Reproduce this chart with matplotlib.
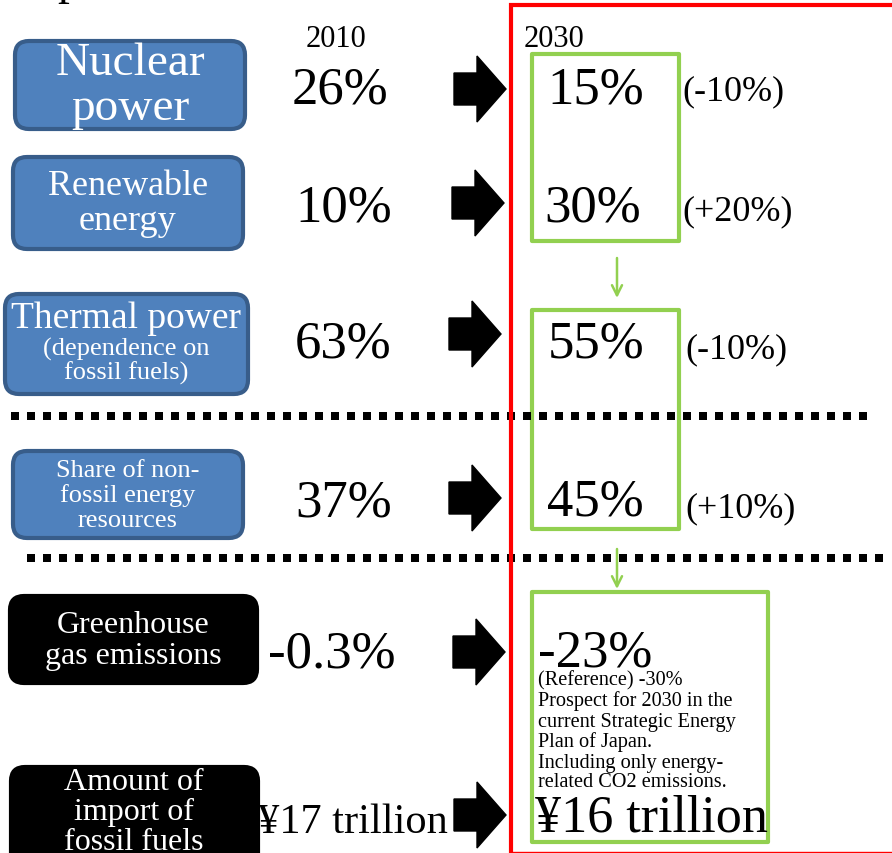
import matplotlib.pyplot as plt
from matplotlib.patches import FancyBboxPatch, FancyArrow, Rectangle

plt.rcParams['font.family'] = ['Liberation Serif', 'DejaVu Serif']

# data
labels = [['Nuclear', 'power'],
          ['Renewable', 'energy'],
          ['Thermal power', '(dependence on', 'fossil fuels)'],
          ['Share of non-', 'fossil energy', 'resources'],
          ['Greenhouse', 'gas emissions'],
          ['Amount of', 'import of', 'fossil fuels']]
values_2010 = ['26%', '10%', '63%', '37%', '-0.3%', '¥17 trillion']
values_2030 = ['15%', '30%', '55%', '45%', '-23%', '¥16 trillion']
changes = ['(-10%)', '(+20%)', '(-10%)', '(+10%)']
note = ['(Reference) -30%', 'Prospect for 2030 in the', 'current Strategic Energy',
        'Plan of Japan.', 'Including only energy-', 'related CO2 emissions.']

# layout (pixels)
box_x = [(15, 245), (13, 243), (5, 248), (13, 243), (10, 257), (11, 258)]
box_y = [(42, 130), (158, 250), (295, 395), (452, 539), (597, 684), (768, 880)]
box_fill = ['#4F81BD'] * 4 + ['black'] * 2
box_edge = ['#385D8A'] * 4 + ['black'] * 2
label_base = [[75, 120], [195, 230], [328, 356, 380], [477, 502, 527], [633, 664], [790, 820, 850]]
label_size = [[34, 34], [26, 26], [27, 19, 19], [19, 19, 19], [23, 23], [23, 23, 23]]
label_cx = [130, 128, 126, 128, 133, 134]
row_base = [103, 222, 358, 517, 668, 833]
x2010 = [292, 295, 295, 295, 268, 258]
arrow_cy = [90, 204, 335, 499, 653, 816]
arrow_x0 = [454, 452, 449, 449, 453, 454]

fig = plt.figure(figsize=(8.92, 8.54), dpi=100)
ax = fig.add_axes([0, 0, 1, 1])
ax.set_xlim(0, 892)
ax.set_ylim(854, 0)
ax.axis('off')

# cut-off title glyph
ax.text(57, -6, 'p', fontsize=34, va='baseline', ha='left')

for i, lines in enumerate(labels):
    x0, x1 = box_x[i]
    y0, y1 = box_y[i]
    ax.add_patch(FancyBboxPatch((x0, y0), x1 - x0, y1 - y0,
                                boxstyle='round,pad=0,rounding_size=14',
                                fc=box_fill[i], ec=box_edge[i], lw=3))
    for line, yb, fs in zip(lines, label_base[i], label_size[i]):
        ax.text(label_cx[i], yb, line, color='white', fontsize=fs,
                ha='center', va='baseline')
    # 2010 value
    fs = 30.5 if 'trillion' in values_2010[i] else 38
    ax.text(x2010[i], row_base[i], values_2010[i], fontsize=fs,
            ha='left', va='baseline')
    # black block arrow
    ax.add_patch(FancyArrow(arrow_x0[i], arrow_cy[i], 52, 0, width=32,
                            head_width=66, head_length=29,
                            length_includes_head=True, color='black'))

ax.text(336, 47, '2010', fontsize=22, ha='center', va='baseline')
ax.text(554, 47, '2030', fontsize=22, ha='center', va='baseline')

# dotted separators
ax.plot([11, 868], [417, 417], color='black', lw=5.76, dashes=(1, 1),
        solid_capstyle='butt', dash_capstyle='butt')
ax.plot([27, 885], [559, 559], color='black', lw=5.76, dashes=(1, 1),
        solid_capstyle='butt', dash_capstyle='butt')

# red frame
ax.plot([511, 511, 900], [853, 6, 6], color='#FF0000', lw=3, solid_joinstyle='miter')
ax.plot([511, 900], [852.5, 852.5], color='#FF0000', lw=1)

# green boxes
green = '#92D050'
for (x0, x1), (y0, y1) in [((532, 679), (55, 242)), ((532, 679), (311, 530)),
                           ((532, 768), (593, 843))]:
    ax.add_patch(Rectangle((x0, y0), x1 - x0, y1 - y0, fill=False,
                           ec=green, lw=3, joinstyle='round'))
for ys, ye in [(259, 299), (550, 590)]:
    ax.annotate('', xy=(617, ye), xytext=(617, ys),
                arrowprops=dict(arrowstyle='->', color=green, lw=1.8,
                                mutation_scale=18, shrinkA=0, shrinkB=0))

# 2030 values
x2030 = [547, 544, 548, 547, 538, 535]
base2030 = [103, 222, 358, 516, 667, 832]
for i, v in enumerate(values_2030):
    fs = 37.5 if 'trillion' in v else 38
    ax.text(x2030[i], base2030[i], v, fontsize=fs, ha='left', va='baseline')

chg_x = [682, 682, 685, 685]
chg_base = [100, 220, 358, 517]
for x, yb, c in zip(chg_x, chg_base, changes):
    ax.text(x, yb, c, fontsize=26, ha='left', va='baseline')

note_base = [685, 706, 727, 747, 768, 787]
for yb, line in zip(note_base, note):
    ax.text(538, yb, line, fontsize=14.6, ha='left', va='baseline')

fig.savefig('out.png', dpi=100)
